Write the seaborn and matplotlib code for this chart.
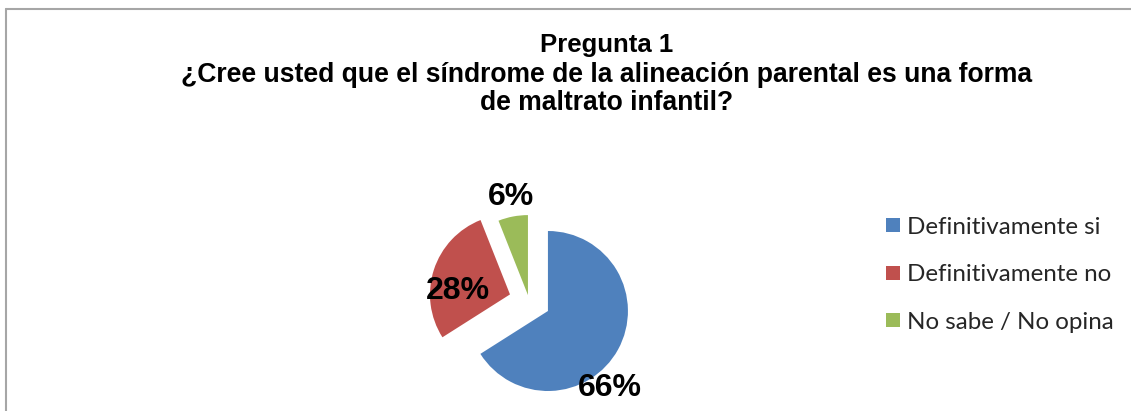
import matplotlib
matplotlib.use("Agg")
import matplotlib.pyplot as plt
from matplotlib.lines import Line2D
import seaborn as sns

# ---- data ----
categories = ["Definitivamente si", "Definitivamente no", "No sabe / No opina"]
values = [66, 28, 6]
pct_labels = ["66%", "28%", "6%"]
title_lines = ["Pregunta 1",
               "¿Cree usted que el síndrome de la alineación parental es una forma",
               "de maltrato infantil?"]

# ---- style ----
colors = ["#4F81BD", "#C0504D", "#9BBB59"]
explode_frac = [0.27, 0.25, 0.07]   # fraction of radius

sns.set_theme(style="white")
plt.rcParams["font.family"] = ["Liberation Sans", "DejaVu Sans"]

W, H = 1131, 411
fig = plt.figure(figsize=(W / 100, H / 100), dpi=100)
ax = fig.add_axes([0, 0, 1, 1])

# pie drawn in pixel-like data coordinates
cx, cy, r = 529, H - 300.6, 80
ax.pie(values, colors=colors, explode=[e * r for e in explode_frac], startangle=90,
       counterclock=False, center=(cx, cy), radius=r, wedgeprops=dict(linewidth=0))
ax.set_xlim(0, W)
ax.set_ylim(0, H)
ax.set_aspect("equal")
ax.axis("off")

# percentage labels
label_pos = [(610, H - 388), (458, H - 291), (511, H - 197)]
for (x, y), t in zip(label_pos, pct_labels):
    ax.text(x, y, t, ha="center", va="center", fontsize=23, fontweight="bold",
            color="black")

# title (three centred lines)
title_sizes = [18.5, 19.1, 19.1]
title_baselines = [51.7, 82.5, 110.5]
for yb, t, fs in zip(title_baselines, title_lines, title_sizes):
    ax.text(607, H - yb, t, ha="center", va="baseline", fontsize=fs,
            fontweight="bold", color="black")

# legend
handles = [Line2D([0], [0], marker="s", linestyle="none", markersize=10.5,
                  markerfacecolor=c, markeredgewidth=0) for c in colors]
leg = ax.legend(handles, categories, loc="upper left",
                bbox_to_anchor=(886 / W, 1 - 216.5 / H), bbox_transform=fig.transFigure,
                frameon=False, prop={"family": "Lato", "size": 17.4},
                handlelength=0.6, handletextpad=0.27, labelspacing=1.1,
                borderpad=0, borderaxespad=0)

# chart border (top and left visible)
border_color = "#A6A6A6"
fig.add_artist(Line2D([6 / W, 1], [1 - 9 / H, 1 - 9 / H], transform=fig.transFigure,
                      color=border_color, linewidth=1.5))
fig.add_artist(Line2D([6 / W, 6 / W], [0, 1 - 9 / H], transform=fig.transFigure,
                      color=border_color, linewidth=1.5))

fig.savefig("out.png", dpi=100)
